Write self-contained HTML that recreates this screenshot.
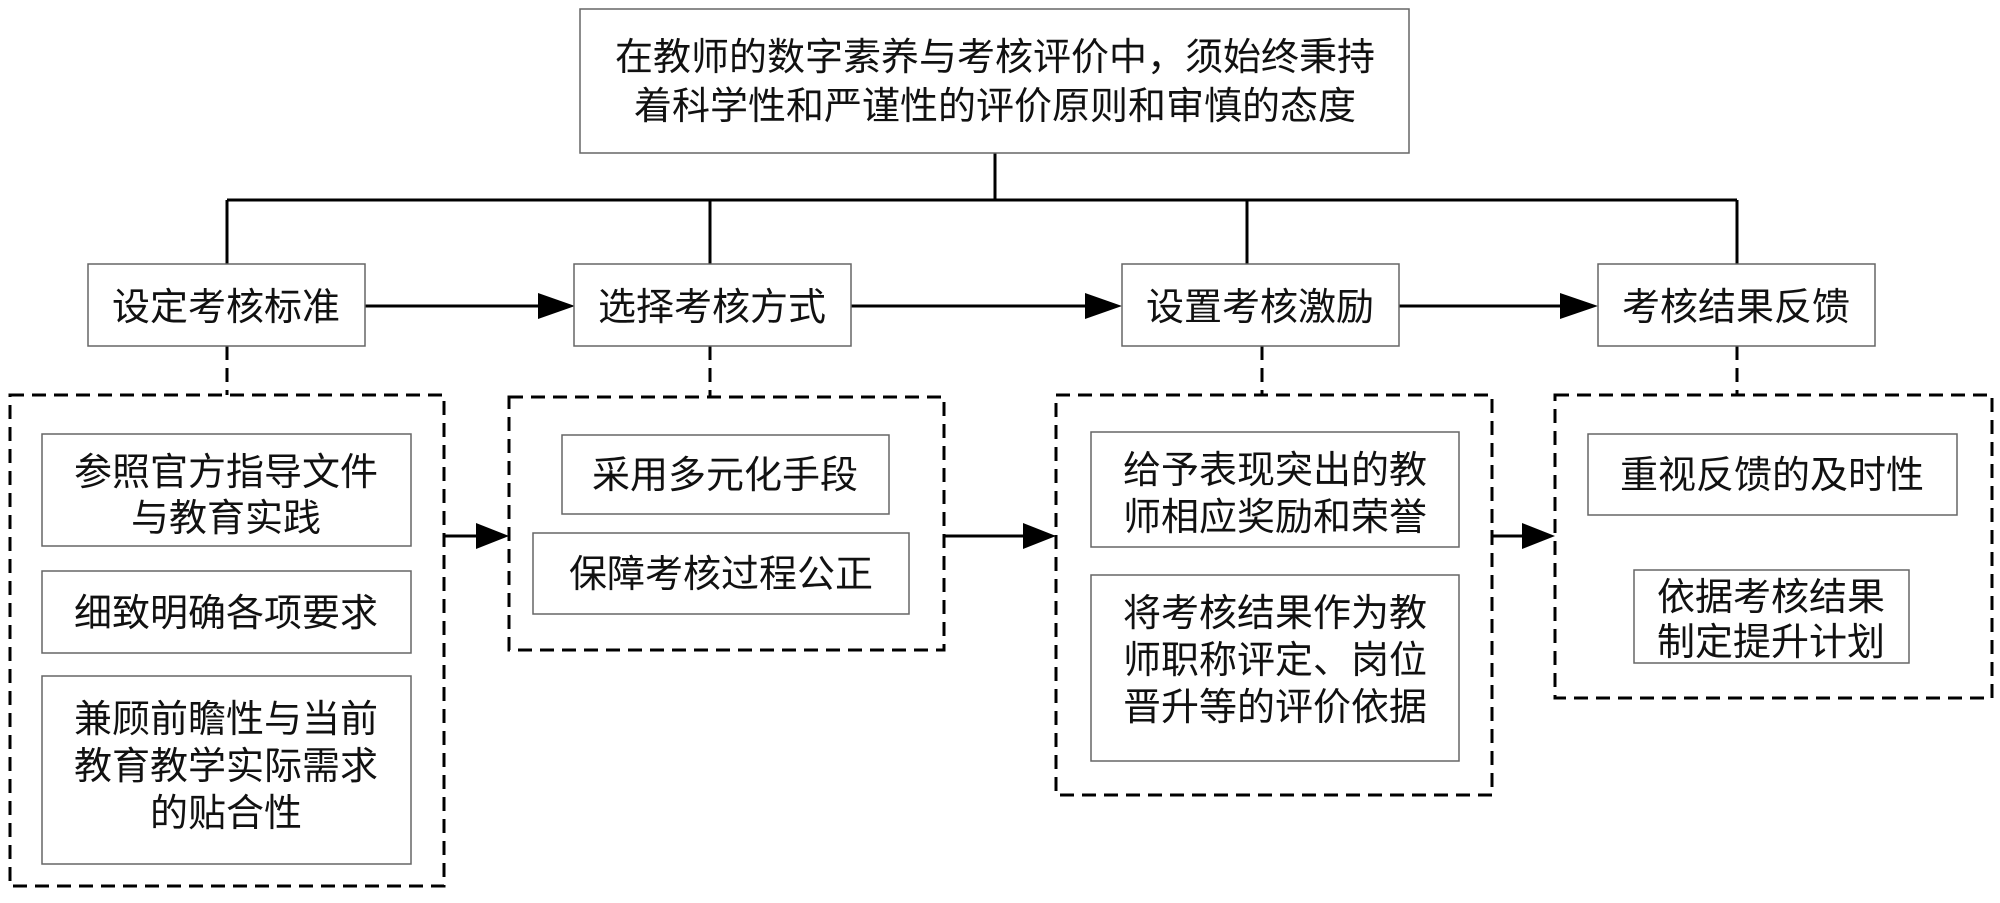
<!DOCTYPE html>
<html><head><meta charset="utf-8"><style>
html,body{margin:0;padding:0;background:#fff;}
svg text{font-family:"Liberation Sans","Noto Sans CJK SC",sans-serif;font-size:38px;fill:#111;text-anchor:middle;}
</style></head><body>
<svg width="2000" height="898" viewBox="0 0 2000 898" xmlns="http://www.w3.org/2000/svg">
<g fill="none" stroke="#000" stroke-width="3">
<path d="M995 153V200M227 200H1737M227 200V264M710 200V264M1247 200V264M1737 200V264"/>
<path d="M365 306H538M851 306H1085M1399 306H1560"/>
<path d="M444 536H478M944 536H1023M1492 536V530M1492 536H1522"/>
</g>
<g fill="#000">
<path d="M538 293L575 306L538 319z"/>
<path d="M1085 293L1122 306L1085 319z"/>
<path d="M1560 293L1598 306L1560 319z"/>
<path d="M476 523L509 536L476 549z"/>
<path d="M1023 523L1056 536L1023 549z"/>
<path d="M1522 523L1555 536L1522 549z"/>
</g>
<g fill="none" stroke="#000" stroke-width="3" stroke-dasharray="14 8">
<path d="M227 346V395M710 346V397M1262 346V395M1737 346V395"/>
<rect x="10" y="395" width="434" height="491"/>
<rect x="509" y="397" width="435" height="253"/>
<rect x="1056" y="395" width="436" height="400"/>
<rect x="1555" y="395" width="437" height="303"/>
</g>
<g fill="#fff" stroke="#666" stroke-width="1.5">
<rect x="580" y="9" width="829" height="144"/>
<rect x="88" y="264" width="277" height="82"/>
<rect x="574" y="264" width="277" height="82"/>
<rect x="1122" y="264" width="277" height="82"/>
<rect x="1598" y="264" width="277" height="82"/>
<rect x="42" y="434" width="369" height="112"/>
<rect x="42" y="571" width="369" height="82"/>
<rect x="42" y="676" width="369" height="188"/>
<rect x="562" y="435" width="327" height="79"/>
<rect x="533" y="533" width="376" height="81"/>
<rect x="1091" y="432" width="368" height="115"/>
<rect x="1091" y="575" width="368" height="186"/>
<rect x="1588" y="434" width="369" height="81"/>
<rect x="1634" y="570" width="275" height="93"/>
</g>
<text x="995" y="70">在教师的数字素养与考核评价中，须始终秉持</text>
<text x="995" y="119">着科学性和严谨性的评价原则和审慎的态度</text>
<text x="226" y="320">设定考核标准</text>
<text x="712" y="320">选择考核方式</text>
<text x="1260" y="320">设置考核激励</text>
<text x="1736" y="320">考核结果反馈</text>
<text x="226" y="485">参照官方指导文件</text>
<text x="226" y="531">与教育实践</text>
<text x="226" y="626">细致明确各项要求</text>
<text x="226" y="732">兼顾前瞻性与当前</text>
<text x="226" y="779">教育教学实际需求</text>
<text x="226" y="826">的贴合性</text>
<text x="725" y="488">采用多元化手段</text>
<text x="721" y="587">保障考核过程公正</text>
<text x="1275" y="483">给予表现突出的教</text>
<text x="1275" y="530">师相应奖励和荣誉</text>
<text x="1275" y="626">将考核结果作为教</text>
<text x="1275" y="673">师职称评定、岗位</text>
<text x="1275" y="720">晋升等的评价依据</text>
<text x="1772" y="488">重视反馈的及时性</text>
<text x="1771" y="610">依据考核结果</text>
<text x="1771" y="655">制定提升计划</text>
</svg>
</body></html>
